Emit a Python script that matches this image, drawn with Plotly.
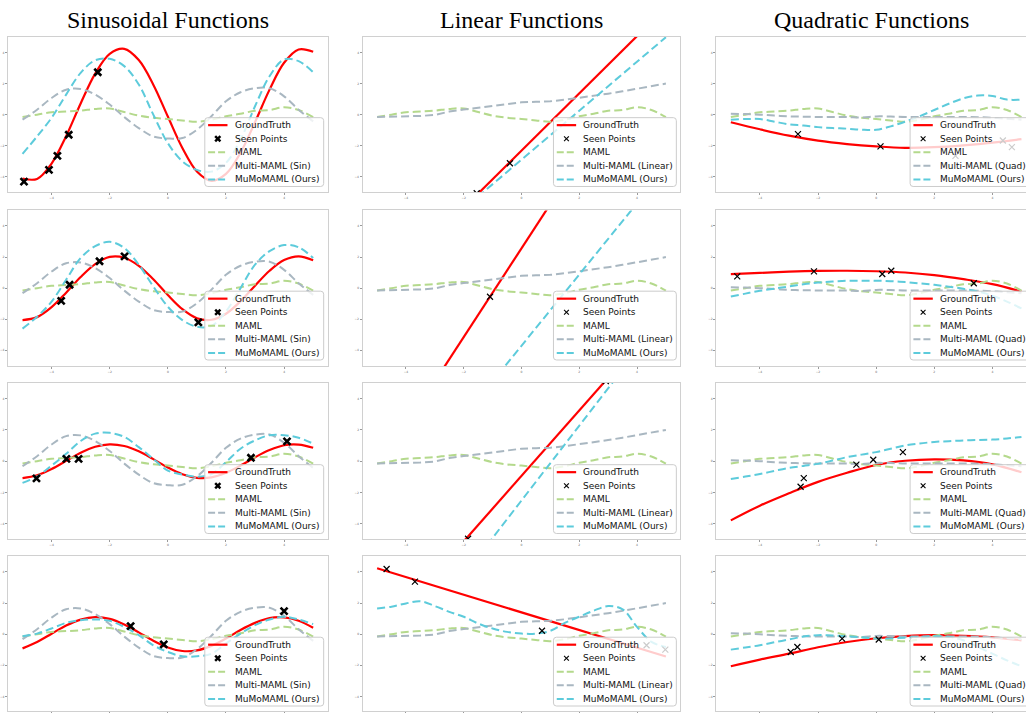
import plotly.graph_objects as go

# ---------------- data ----------------
X_HALF = [-5.0, -4.5, -4.0, -3.5, -3.0, -2.5, -2.0, -1.5, -1.0, -0.5, 0.0,
          0.5, 1.0, 1.5, 2.0, 2.5, 3.0, 3.5, 4.0, 4.5, 5.0]
X_INT = [-5, -4, -3, -2, -1, 0, 1, 2, 3, 4, 5]
X_ENDS = [-5, 5]

# shared baselines (same in every row of a column)
MAML = [-0.15, 0.0, 0.15, 0.2, 0.26, 0.37, 0.4, 0.17, -0.06, -0.2, -0.28,
        -0.37, -0.45, -0.32, -0.1, 0.06, 0.25, 0.3, 0.48, 0.3, -0.15]
MULTI_SIN = [-0.32, 0.32, 1.07, 1.6, 1.65, 1.29, 0.65, -0.15, -0.86, -1.4, -1.53,
             -1.5, -0.97, -0.1, 0.86, 1.44, 1.7, 1.7, 1.18, 0.32, -0.43]
MULTI_LIN = [-0.15, -0.13, -0.11, -0.08, -0.02, 0.2, 0.33, 0.45, 0.58, 0.7, 0.8,
             0.83, 0.86, 0.96, 1.08, 1.22, 1.35, 1.5, 1.66, 1.83, 2.0]
MULTI_QUAD = [0.06, 0.04, 0.0, -0.06, -0.11, -0.13, -0.15, -0.15, -0.15, -0.18, -0.11,
              -0.12, -0.15, -0.15, -0.15, -0.15, -0.15, -0.16, -0.2, -0.26, -0.32]

# sinusoid column
SIN_GT_1 = [-4.10, -4.13, -3.14, -1.38, 0.72, 2.64, 3.91, 4.23, 3.51, 1.93, -0.12,
            -2.14, -3.65, -4.25, -3.81, -2.45, -0.48, 1.61, 3.34, 4.19, 4.04]
SIN_GT_2 = [-2.05, -1.86, -1.22, -0.29, 0.72, 1.55, 2.01, 1.96, 1.44, 0.57, -0.44,
            -1.35, -1.93, -2.03, -1.64, -0.84, 0.16, 1.12, 1.81, 2.05, 1.80]
SIN_GT_3 = [-1.08, -0.90, -0.50, 0.02, 0.54, 0.92, 1.08, 0.97, 0.63, 0.13, -0.40,
            -0.83, -1.06, -1.03, -0.74, -0.28, 0.25, 0.71, 1.02, 1.06, 0.86]
SIN_GT_4 = [-0.91, -0.50, 0.03, 0.56, 0.94, 1.10, 0.99, 0.63, 0.12, -0.42, -0.85,
            -1.08, -1.04, -0.75, -0.28, 0.27, 0.73, 1.04, 1.08, 0.87, 0.42]
SIN_MUMO_1 = [-2.52, -1.4, -0.2, 1.29, 2.69, 3.5, 3.59, 3.12, 1.94, 0.0, -1.83,
              -3.0, -3.55, -3.66, -3.1, -1.6, 0.54, 2.47, 3.55, 3.44, 2.73]
SIN_MUMO_2 = [-2.6, -1.84, -0.86, 0.54, 1.94, 2.7, 2.98, 2.59, 1.51, 0.11, -1.19,
              -2.05, -2.48, -2.42, -1.5, 0.0, 1.51, 2.38, 2.77, 2.63, 1.94]
SIN_MUMO_3 = [-1.38, -0.97, -0.28, 0.47, 1.29, 1.76, 1.81, 1.55, 0.9, 0.15, -0.6,
              -0.85, -0.99, -0.82, -0.06, 0.8, 1.33, 1.66, 1.66, 1.5, 1.12]
SIN_MUMO_4 = [-0.13, 0.04, 0.37, 0.73, 0.9, 0.95, 0.86, 0.47, -0.06, -0.71, -1.14,
              -1.42, -1.42, -1.25, -0.6, 0.04, 0.58, 0.95, 1.12, 0.95, 0.65]
SIN_PTS_X_1 = [-4.95, -4.09, -3.80, -3.41, -2.41]
SIN_PTS_Y_1 = [-4.3, -3.55, -2.65, -1.29, 2.73]
SIN_PTS_X_2 = [-3.67, -3.38, -2.35, -1.49, 1.05]
SIN_PTS_Y_2 = [-0.82, 0.22, 1.73, 2.05, -2.2]
SIN_PTS_X_3 = [-4.52, -3.49, -3.07, 2.86, 4.1]
SIN_PTS_Y_3 = [-1.1, 0.15, 0.15, 0.22, 1.27]
SIN_PTS_X_4 = [-1.28, -0.14, 4.0]
SIN_PTS_Y_4 = [0.52, -0.65, 1.48]

# linear column
LIN_GT_1 = [-11.51, 6.89]
LIN_GT_2 = [-11.69, 16.81]
LIN_GT_3 = [-11.39, 9.51]
LIN_GT_4 = [4.24, -1.43]
LIN_MUMO_1 = [-10.77, 4.98]
LIN_MUMO_2 = [-15.15, 7.75]
LIN_MUMO_3 = [-14.46, 9.44]
LIN_MUMO_4 = [1.66, 1.77, 1.98, 2.12, 1.81, 1.44, 1.12, 0.69, 0.37, 0.15, 0.04,
              0.04, 0.22, 0.73, 1.12, 1.51, 1.81, 1.6, 0.47, -0.49, -0.82]
LIN_PTS_X_1 = [-1.55, -0.40]
LIN_PTS_Y_1 = [-5.05, -3.12]
LIN_PTS_X_2 = [-1.09]
LIN_PTS_Y_2 = [-0.55]
LIN_PTS_X_3 = [-1.85, 2.92]
LIN_PTS_Y_3 = [-4.95, 5.12]
LIN_PTS_X_4 = [-4.67, -3.69, 0.71, 4.33, 4.98]
LIN_PTS_Y_4 = [4.19, 3.38, 0.22, -0.71, -0.99]

# quadratic column
QUAD_GT_1 = [-0.49, -0.94, -1.35, -1.67, -1.89, -2.04, -2.13, -2.09, -1.97, -1.8, -1.57]
QUAD_GT_2 = [0.91, 0.98, 1.06, 1.11, 1.12, 1.09, 1.01, 0.84, 0.58, 0.26, -0.22]
QUAD_GT_3 = [-3.78, -2.84, -2.05, -1.32, -0.74, -0.24, 0.03, 0.12, 0.05, -0.2, -0.71]
QUAD_GT_4 = [-2.06, -1.63, -1.25, -0.84, -0.5, -0.26, -0.12, -0.06, -0.1, -0.2, -0.39]
QUAD_MUMO_1 = [-0.32, -0.28, -0.28, -0.45, -0.62, -0.7, -0.8, -0.86, -0.9, -0.97, -0.97,
               -0.75, -0.45, -0.1, 0.3, 0.7, 1.05, 1.23, 1.2, 0.97, 0.97]
QUAD_MUMO_2 = [-0.54, -0.35, -0.17, -0.03, 0.11, 0.25, 0.37, 0.43, 0.48, 0.48, 0.48,
               0.45, 0.39, 0.31, 0.22, 0.1, -0.04, -0.22, -0.48, -0.86, -1.3]
QUAD_MUMO_3 = [-1.14, -0.98, -0.82, -0.62, -0.43, -0.3, -0.17, 0.04, 0.26, 0.42, 0.58,
               0.8, 1.01, 1.13, 1.23, 1.28, 1.33, 1.35, 1.38, 1.45, 1.55]
QUAD_MUMO_4 = [-0.99, -0.85, -0.71, -0.52, -0.34, -0.15, -0.06, -0.08, -0.13, -0.2, -0.28,
               -0.26, -0.22, -0.17, -0.13, -0.17, -0.39, -0.82, -1.25, -1.68, -2.06]
QUAD_PTS_X_1 = [-2.69, 0.15, 2.73, 4.36, 4.67]
QUAD_PTS_Y_1 = [-1.25, -2.04, -2.65, -1.66, -2.09]
QUAD_PTS_X_2 = [-4.78, -2.14, 0.21, 0.52, 3.36]
QUAD_PTS_Y_2 = [0.76, 1.08, 0.91, 1.12, 0.32]
QUAD_PTS_X_3 = [-2.6, -2.49, -0.68, -0.1, 0.92]
QUAD_PTS_Y_3 = [-1.63, -1.08, -0.22, 0.09, 0.58]
QUAD_PTS_X_4 = [-2.94, -2.71, -1.17, 0.09]
QUAD_PTS_Y_4 = [-1.14, -0.82, -0.28, -0.34]

COL_TITLES = ["Sinusoidal Functions", "Linear Functions", "Quadratic Functions"]
MULTI_LABELS = ["Multi-MAML (Sin)", "Multi-MAML (Linear)", "Multi-MAML (Quad)"]
LEGEND_LABELS = ["GroundTruth", "Seen Points", "MAML", None, "MuMoMAML (Ours)"]
TICKS = [-4, -2, 0, 2, 4]

# ---------------- styling / layout ----------------
W, H = 1026, 713
RED = "#ff0000"
GREEN = "#b4d98c"
GREY = "#a9b7c1"
CYAN = "#5dcbdb"
DASH = "8px,4px"

COL_LEFT = [7, 362, 716]
COL_RIGHT = [327, 680, 1036]
ROW_TOP = [37, 211, 384, 558]
ROW_BOT = [193, 367, 541, 714]
LEG_W = [119, 123, 122]

panels = [
    # (gt_x, gt_y, gt_shape, mumo_x, mumo_y, pts_x, pts_y, multi)
    [(X_HALF, SIN_GT_1, "spline", X_HALF, SIN_MUMO_1, SIN_PTS_X_1, SIN_PTS_Y_1, MULTI_SIN),
     (X_ENDS, LIN_GT_1, "linear", X_ENDS, LIN_MUMO_1, LIN_PTS_X_1, LIN_PTS_Y_1, MULTI_LIN),
     (X_INT, QUAD_GT_1, "spline", X_HALF, QUAD_MUMO_1, QUAD_PTS_X_1, QUAD_PTS_Y_1, MULTI_QUAD)],
    [(X_HALF, SIN_GT_2, "spline", X_HALF, SIN_MUMO_2, SIN_PTS_X_2, SIN_PTS_Y_2, MULTI_SIN),
     (X_ENDS, LIN_GT_2, "linear", X_ENDS, LIN_MUMO_2, LIN_PTS_X_2, LIN_PTS_Y_2, MULTI_LIN),
     (X_INT, QUAD_GT_2, "spline", X_HALF, QUAD_MUMO_2, QUAD_PTS_X_2, QUAD_PTS_Y_2, MULTI_QUAD)],
    [(X_HALF, SIN_GT_3, "spline", X_HALF, SIN_MUMO_3, SIN_PTS_X_3, SIN_PTS_Y_3, MULTI_SIN),
     (X_ENDS, LIN_GT_3, "linear", X_ENDS, LIN_MUMO_3, LIN_PTS_X_3, LIN_PTS_Y_3, MULTI_LIN),
     (X_INT, QUAD_GT_3, "spline", X_HALF, QUAD_MUMO_3, QUAD_PTS_X_3, QUAD_PTS_Y_3, MULTI_QUAD)],
    [(X_HALF, SIN_GT_4, "spline", X_HALF, SIN_MUMO_4, SIN_PTS_X_4, SIN_PTS_Y_4, MULTI_SIN),
     (X_ENDS, LIN_GT_4, "linear", X_HALF, LIN_MUMO_4, LIN_PTS_X_4, LIN_PTS_Y_4, MULTI_LIN),
     (X_INT, QUAD_GT_4, "spline", X_HALF, QUAD_MUMO_4, QUAD_PTS_X_4, QUAD_PTS_Y_4, MULTI_QUAD)],
]


def px(x):
    return x / W


def py(y):
    return 1 - y / H


def rounded_rect(x0, y0, x1, y1, rad=3.0):
    """SVG path in paper coordinates for a rounded rectangle given in pixels."""
    pts = []
    def P(x, y):
        return f"{px(x):.6f},{py(y):.6f}"
    pts.append(f"M {P(x0 + rad, y0)}")
    pts.append(f"L {P(x1 - rad, y0)}")
    pts.append(f"Q {P(x1, y0)} {P(x1, y0 + rad)}")
    pts.append(f"L {P(x1, y1 - rad)}")
    pts.append(f"Q {P(x1, y1)} {P(x1 - rad, y1)}")
    pts.append(f"L {P(x0 + rad, y1)}")
    pts.append(f"Q {P(x0, y1)} {P(x0, y1 - rad)}")
    pts.append(f"L {P(x0, y0 + rad)}")
    pts.append(f"Q {P(x0, y0)} {P(x0 + rad, y0)} Z")
    return " ".join(pts)


fig = go.Figure()
layout = dict(
    width=W, height=H, margin=dict(l=0, r=0, t=0, b=0),
    paper_bgcolor="white", plot_bgcolor="white", showlegend=False,
    font=dict(family="DejaVu Sans", color="#000"),
)
shapes, annotations = [], []

for r in range(4):
    for c in range(3):
        idx = r * 3 + c + 1
        xa, ya = f"x{idx}", f"y{idx}"
        gx, gy, gshape, mx, my, ptx, pty, multi = panels[r][c]
        L, R, T, B = COL_LEFT[c], COL_RIGHT[c], ROW_TOP[r], ROW_BOT[r]
        ppu_x = (R - L) / 11.0
        ppu_y = (B - T) / 10.0
        Rv, Bv = min(R, W), min(B, H)
        xr = [-5.5, -5.5 + (Rv - L) / ppu_x]
        yr = [5 - (Bv - T) / ppu_y, 5]
        bold = (c == 0)

        fig.add_trace(go.Scatter(x=gx, y=gy, mode="lines", xaxis=xa, yaxis=ya,
                                 line=dict(color=RED, width=2.2, shape=gshape)))
        fig.add_trace(go.Scatter(x=X_HALF, y=MAML, mode="lines", xaxis=xa, yaxis=ya,
                                 line=dict(color=GREEN, width=2, dash=DASH, shape="spline")))
        fig.add_trace(go.Scatter(x=X_HALF, y=multi, mode="lines", xaxis=xa, yaxis=ya,
                                 line=dict(color=GREY, width=2, dash=DASH,
                                           shape="spline" if c != 1 else "linear")))
        fig.add_trace(go.Scatter(x=mx, y=my, mode="lines", xaxis=xa, yaxis=ya,
                                 line=dict(color=CYAN, width=2, dash=DASH, shape="spline")))
        fig.add_trace(go.Scatter(x=ptx, y=pty, mode="markers", xaxis=xa, yaxis=ya,
                                 marker=dict(symbol="x-thin-open", size=7 if bold else 6,
                                             color="black",
                                             line=dict(color="black", width=2.6 if bold else 1.2))))

        common = dict(showgrid=False, zeroline=False, showline=True, linecolor="#d0d0d0",
                      linewidth=1, ticks="outside", ticklen=2, tickcolor="#9a9a9a",
                      tickmode="array", tickvals=TICKS,
                      tickfont=dict(size=3, color="#666"), fixedrange=True)
        layout[f"xaxis{idx}"] = dict(common, domain=[px(L), px(Rv)], range=xr,
                                     anchor=ya, mirror=True,
                                     showticklabels=(r < 3))
        layout[f"yaxis{idx}"] = dict(common, domain=[max(0, py(B)), py(T)], range=yr,
                                     anchor=xa, mirror=(c != 2))

        # ---- manual legend (matplotlib style, lower right) ----
        bx1 = R - 4
        bx0 = bx1 - LEG_W[c]
        by1 = B - 6
        by0 = by1 - 69
        shapes.append(dict(type="path", xref="paper", yref="paper", layer="above",
                           path=rounded_rect(bx0, by0, bx1, by1),
                           fillcolor="rgba(255,255,255,0.8)",
                           line=dict(color="#cccccc", width=1)))
        labels = list(LEGEND_LABELS)
        labels[3] = MULTI_LABELS[c]
        for k, lab in enumerate(labels):
            yc = by0 + 7.5 + 13.6 * k
            lx0, lx1 = bx0 + 3.3, bx0 + 22.7
            if k == 1:
                cx = (lx0 + lx1) / 2
                s = 2.6 if bold else 2.4
                for dy in (s, -s):
                    shapes.append(dict(type="line", xref="paper", yref="paper", layer="above",
                                       x0=px(cx - s), x1=px(cx + s),
                                       y0=py(yc - dy), y1=py(yc + dy),
                                       line=dict(color="black", width=2.4 if bold else 1.1)))
            else:
                col = {0: RED, 2: GREEN, 3: GREY, 4: CYAN}[k]
                shapes.append(dict(type="line", xref="paper", yref="paper", layer="above",
                                   x0=px(lx0), x1=px(lx1), y0=py(yc), y1=py(yc),
                                   line=dict(color=col, width=2.2 if k == 0 else 2,
                                             dash=None if k == 0 else "7px,3px")))
            annotations.append(dict(xref="paper", yref="paper", x=px(bx0 + 27.8), y=py(yc),
                                    text=lab, showarrow=False, xanchor="left",
                                    yanchor="middle",
                                    font=dict(family="DejaVu Sans", size=9, color="#111")))

for c in range(3):
    cx = (COL_LEFT[c] + COL_RIGHT[c]) / 2
    if c == 2:
        cx = 871
    annotations.append(dict(xref="paper", yref="paper", x=px(cx), y=py(20),
                            text=COL_TITLES[c], showarrow=False, xanchor="center",
                            yanchor="middle",
                            font=dict(family="Liberation Serif", size=24, color="#000")))

layout["shapes"] = shapes
layout["annotations"] = annotations
fig.update_layout(**layout)
fig.write_html(
    "out.html",
    config={"displayModeBar": False},
    post_script="document.body.style.margin='0';document.body.style.overflow='hidden';",
)
